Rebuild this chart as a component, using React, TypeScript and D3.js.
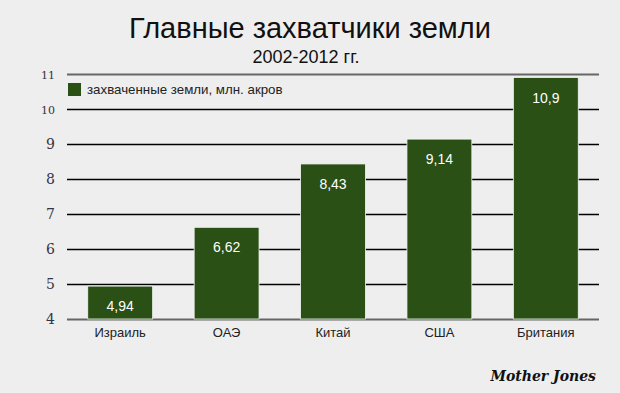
import React from "react";
import * as d3 from "d3";

const countries = ["Израиль", "ОАЭ", "Китай", "США", "Британия"];
const acres = [4.94, 6.62, 8.43, 9.14, 10.9];
const labels = ["4,94", "6,62", "8,43", "9,14", "10,9"];
const yTicks = [4, 5, 6, 7, 8, 9, 10, 11];

const W = 620;
const H = 393;
const margin = { top: 74, right: 21, bottom: 74, left: 67 };
const barColor = "#2a5015";

const App = () => {
  const svgRef = React.useRef<SVGSVGElement>(null);

  React.useEffect(() => {
    const x = d3.scaleBand<string>()
      .domain(countries)
      .range([margin.left, W - margin.right])
      .paddingInner(0.39)
      .paddingOuter(0.195);
    const y = d3.scaleLinear()
      .domain([4, 11])
      .range([H - margin.bottom, margin.top]);

    const svgEl = d3.select(svgRef.current);
    svgEl.selectAll("*").remove();

    svgEl.append("rect").attr("width", W).attr("height", H).attr("fill", "#eeeeee");

    // titles
    svgEl.append("text")
      .attr("x", 310).attr("y", 38)
      .attr("text-anchor", "middle")
      .attr("font-family", "Liberation Sans, Arial, sans-serif")
      .attr("font-size", 29)
      .attr("fill", "#111")
      .text("Главные захватчики земли");
    svgEl.append("text")
      .attr("x", 306).attr("y", 63)
      .attr("text-anchor", "middle")
      .attr("font-family", "Liberation Sans, Arial, sans-serif")
      .attr("font-size", 18)
      .attr("fill", "#111")
      .text("2002-2012 гг.");

    // grid lines
    svgEl.append("g")
      .selectAll("line")
      .data(yTicks)
      .enter()
      .append("line")
      .attr("x1", margin.left)
      .attr("x2", W - margin.right)
      .attr("y1", (d) => Math.round(y(d)) + 0.5)
      .attr("y2", (d) => Math.round(y(d)) + 0.5)
      .attr("stroke", (d) => (d === 4 || d === 11 ? "#666" : "#000"))
      .attr("stroke-width", (d) => (d === 4 || d === 11 ? 2 : 1.5));

    // y tick labels
    svgEl.append("g")
      .selectAll("text")
      .data(yTicks)
      .enter()
      .append("text")
      .attr("x", 55)
      .attr("y", (d) => y(d) + 5)
      .attr("text-anchor", "end")
      .attr("font-family", "DejaVu Serif, Georgia, serif")
      .attr("font-size", (d) => (d >= 10 ? 11 : 14))
      .attr("fill", "#334")
      .text((d) => String(d));

    // bars
    const bars = svgEl.append("g");
    bars.selectAll("rect")
      .data(acres)
      .enter()
      .append("rect")
      .attr("x", (d, i) => x(countries[i]) as number)
      .attr("y", (d) => y(d))
      .attr("width", x.bandwidth())
      .attr("height", (d) => y(4) - y(d))
      .attr("fill", barColor)
      .attr("stroke", "#f4f4f4")
      .attr("stroke-width", 0.8);

    bars.selectAll("text")
      .data(acres)
      .enter()
      .append("text")
      .attr("x", (d, i) => (x(countries[i]) as number) + x.bandwidth() / 2)
      .attr("y", (d) => y(d) + 25)
      .attr("text-anchor", "middle")
      .attr("font-family", "Liberation Sans, Arial, sans-serif")
      .attr("font-size", 14)
      .attr("fill", "#fff")
      .text((d, i) => labels[i]);

    // category labels
    svgEl.append("g")
      .selectAll("text")
      .data(countries)
      .enter()
      .append("text")
      .attr("x", (d) => (x(d) as number) + x.bandwidth() / 2)
      .attr("y", y(4) + 18)
      .attr("text-anchor", "middle")
      .attr("font-family", "Liberation Sans, Arial, sans-serif")
      .attr("font-size", 13)
      .attr("fill", "#222")
      .text((d) => d);

    // legend
    svgEl.append("rect")
      .attr("x", 68).attr("y", 83)
      .attr("width", 13).attr("height", 13)
      .attr("fill", barColor);
    svgEl.append("text")
      .attr("x", 87).attr("y", 94)
      .attr("font-family", "Liberation Sans, Arial, sans-serif")
      .attr("font-size", 13.3)
      .attr("fill", "#222")
      .text("захваченные земли, млн. акров");

    // credit
    svgEl.append("text")
      .attr("x", 596).attr("y", 381)
      .attr("text-anchor", "end")
      .attr("font-family", "DejaVu Serif, Georgia, serif")
      .attr("font-style", "italic")
      .attr("font-weight", "bold")
      .attr("font-size", 14)
      .attr("fill", "#111")
      .text("Mother Jones");
  }, []);

  return (
    <div style={{ position: "fixed", left: 0, top: 0 }}>
      <svg ref={svgRef} width={W} height={H} style={{ display: "block" }} />
    </div>
  );
};

export default App;
